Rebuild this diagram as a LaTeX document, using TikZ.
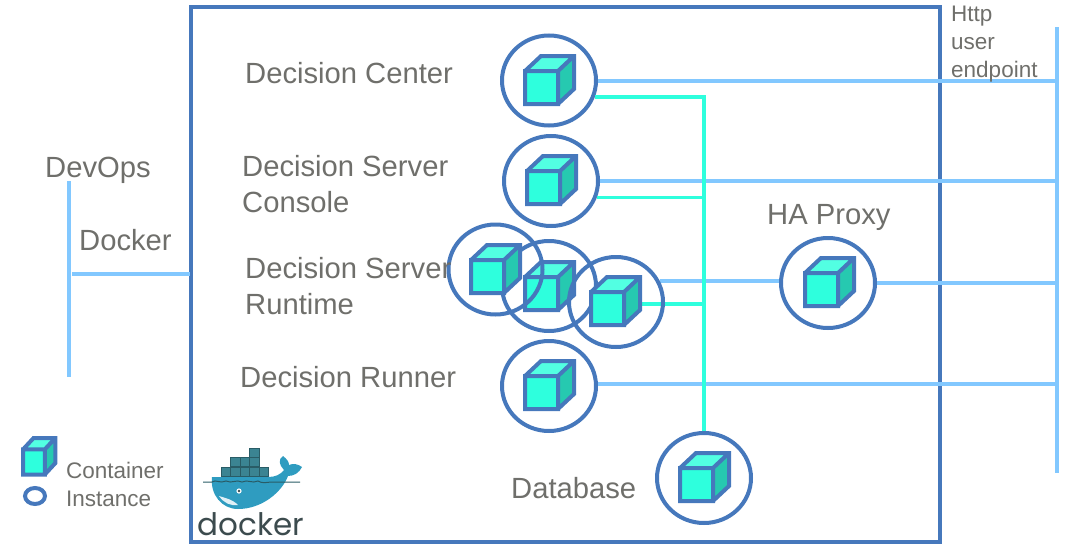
\documentclass[tikz,border=0pt]{standalone}
\usepackage{fontspec}
\setmainfont{Liberation Sans}
\newfontfamily\logofont{Poppins}
\usetikzlibrary{shapes.geometric}

\definecolor{edgeblue}{HTML}{4678BC}
\definecolor{httpblue}{HTML}{82C8FF}
\definecolor{dbcyan}{HTML}{2EFFDD}
\definecolor{cubetop}{HTML}{52FFE2}
\definecolor{cubeside}{HTML}{26C9B0}
\definecolor{labelgray}{HTML}{6F6F6B}
\definecolor{cratecol}{HTML}{3B8492}
\definecolor{whalecol}{HTML}{2F9CC0}
\definecolor{logogray}{HTML}{3C4B4E}

\tikzset{
  inst/.style={draw=edgeblue, line width=4pt, ellipse, minimum width=94pt, minimum height=90pt, inner sep=0pt},
  lbl/.style={text=labelgray, font=\fontsize{29.2}{36}\selectfont, anchor=west, align=left, inner sep=0pt},
  small lbl/.style={text=labelgray, font=\fontsize{22.5}{28}\selectfont, anchor=west, align=left, inner sep=0pt},
  http/.style={draw=httpblue, line width=4pt},
  dblink/.style={draw=dbcyan, line width=3.5pt},
  pics/cube/.style={code={
    \fill [dbcyan] (0,0) rectangle (33,-33);
    \fill [cubetop] (0,-33) -- (16,-48) -- (49,-48) -- (33,-33) -- cycle;
    \fill [cubeside] (33,0) -- (49,-15) -- (49,-48) -- (33,-33) -- cycle;
    \draw [edgeblue, line width=4pt, miter limit=6]
    (0,0) rectangle (33,-33)
    (0,-33) -- (16,-48) -- (49,-48) -- (49,-15) -- (33,0)
    (33,-33) -- (49,-48);
  }}
}

\begin{document}
\begin{tikzpicture}[x=1pt, y=-1pt]
  \useasboundingbox (0,0) rectangle (1076,554);

  \draw [edgeblue, line width=4pt] (191,7) rectangle (940,542);

  % instances
  \node [inst] (dcenter) at (549,80.5) {};
  \node [inst] (dconsole) at (551,181) {};
  \node [inst] (runtimeb) at (549,286) {};
  \node [inst] (drunner) at (549,386) {};
  \node [inst] (proxy) at (828,283) {};
  \node [inst] (dbase) at (704,478) {};
  \node [inst, draw=none] (runtimea) at (495.5,269.5) {};
  \node [inst, draw=none] (runtimec) at (616,302) {};

  \coordinate (bustop) at (1057,27);
  \coordinate (busend) at (1057,473);
  \coordinate (opstop) at (69,181);
  \coordinate (opsend) at (69,377);
  \coordinate (dockin) at (72,274);
  \coordinate (frameleft) at (190,274);

  % http side
  \draw [http] (bustop) -- (busend);
  \draw [http] (opstop) -- (opsend);
  \draw [http] (dockin) -- (frameleft);
  \draw [http] (dcenter.east) -- (dcenter.east -| bustop);
  \draw [http] (dconsole.east) -- (dconsole.east -| bustop);
  \draw [http] (drunner.east) ++ (0,-2) coordinate (runnerout) -- (runnerout -| bustop);
  \draw [http] (proxy.east) -- (proxy.east -| bustop);
  \draw [http] (runtimec.25) -- (runtimec.25 -| proxy.west);

  % database side
  \draw [dblink] (dcenter.-20) -| (dbase.north);
  \draw [dblink] (dconsole.-20) -- (dconsole.-20 -| dbase.north);
  \draw [dblink] (runtimec.center) ++ (24,2) coordinate (runtimeout) -- (runtimeout -| dbase.north);

  % containers
  \path (525,104) pic {cube};
  \path (527,204) pic {cube};
  \path (525,310) pic {cube};
  \node [inst, fill=none] at (runtimea) {};
  \path (471,293) pic {cube};
  \node [inst, fill=none] at (runtimec) {};
  \path (591,325) pic {cube};
  \path (525,409) pic {cube};
  \path (805,306) pic {cube};
  \path (680,501) pic {cube};

  % labels
  \node [lbl] (centerlbl) at (245,73) {Decision Center};
  \node [lbl] (consolelbl) at (242,184) {Decision Server\\Console};
  \node [lbl] (runtimelbl) at (245,286) {Decision Server\\Runtime};
  \node [lbl] (runnerlbl) at (240,377) {Decision Runner};
  \node [lbl] (dblbl) at (511,488) {Database};
  \node [lbl] (proxylbl) at (767,217) {HA Proxy};
  \node [lbl] (opslbl) at (45,170) {DevOps};
  \node [lbl] (docklbl) at (79,240) {Docker};
  \node [small lbl] (httplbl) at (951,44) {Http\\user\\endpoint};

  % legend
  \path (23,474.5) pic [xscale=0.66, yscale=0.76] {cube};
  \node [draw=edgeblue, line width=4pt, ellipse, minimum width=20pt, minimum height=16pt, inner sep=0pt] (legendinst) at (35,496) {};
  \node [small lbl] (legendlbl) at (66,484.5) {Container\\Instance};

  % docker logo
  \foreach \cx/\cy in {221/467,230.5/467,240/467,249.5/467,259/467,230.5/457.5,240/457.5,249.5/457.5,249.5/448}
    \draw [fill=cratecol, draw=cratecol!70!black, line width=0.6pt] (\cx,\cy) rectangle ++(9.5,9);
  \fill [whalecol] (212,477) -- (268,477) .. controls (275,477) and (280,475) .. (284,470)
    .. controls (279,465) and (278,459) .. (283,456) .. controls (287,459) and (289,462) .. (289,465)
    .. controls (293,463) and (298,464) .. (302,467) .. controls (299,473) and (294,476) .. (288,476)
    .. controls (282,492) and (262,509) .. (238,509) .. controls (222,509) and (210,495) .. (212,477) -- cycle;
  \fill [white!85!whalecol] (219,496) .. controls (225,498) and (232,499) .. (238,505) .. controls (230,506) and (224,503) .. (219,496) -- cycle;
  \draw [cratecol!70!black, line width=1pt] (203,482) -- (212,482) .. controls (216,479) and (220,484) .. (226,481)
    .. controls (232,484) and (236,479) .. (242,482) .. controls (248,479) and (252,484) .. (258,481)
    .. controls (262,484) and (268,482) .. (272,482) -- (300,482);
  \fill [white] (239,491) circle (2.6);
  \fill [logogray] (239,491) circle (1.4);
  \node [text=logogray, font=\logofont\fontsize{31}{31}\selectfont, inner sep=0pt] (logotxt) at (251,524) {docker};
\end{tikzpicture}
\end{document}
